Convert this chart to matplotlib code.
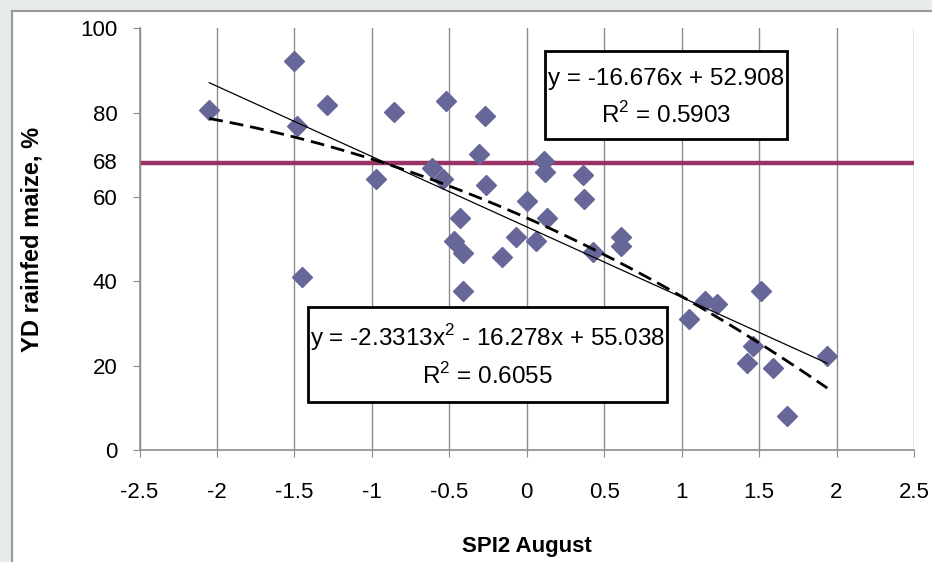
import matplotlib
matplotlib.use('Agg')
import matplotlib.pyplot as plt
from matplotlib.patches import Rectangle
import numpy as np

# data
spi2_aug = [-2.05, -1.50, -1.29, -1.48, -1.45, -0.86, -0.97, -0.52, -0.27, -0.61,
            -0.54, -0.31, -0.26, -0.43, -0.47, -0.41, -0.41, -0.16, -0.07, 0.00,
            0.06, 0.11, 0.12, 0.13, 0.36, 0.37, 0.43, 0.61, 0.61, 1.05,
            1.15, 1.23, 1.51, 1.46, 1.42, 1.59, 1.68, 1.94]
yd_maize = [80.7, 92.3, 81.7, 76.8, 41.1, 80.2, 64.2, 82.7, 79.3, 66.9,
            64.2, 70.3, 62.8, 55.1, 49.6, 46.7, 37.8, 45.8, 50.4, 59.1,
            49.6, 68.5, 66.0, 55.1, 65.2, 59.5, 46.9, 50.6, 48.4, 31.1,
            35.4, 34.7, 37.8, 24.7, 20.7, 19.5, 8.1, 22.2]
lin_coef = [-16.676, 52.908]
quad_coef = [-2.3313, -16.278, 55.038]
threshold = 68

plt.rcParams['font.family'] = ['Liberation Sans', 'DejaVu Sans']
plt.rcParams['mathtext.fontset'] = 'custom'
plt.rcParams['mathtext.rm'] = 'Liberation Sans'

W, H = 932, 562
fig = plt.figure(figsize=(W / 100, H / 100), dpi=100)

# grey frame on top / left
fig.patches.append(Rectangle((0, 1 - 10 / H), 1, 10 / H, transform=fig.transFigure,
                             color='#e8ebeb', zorder=0))
fig.patches.append(Rectangle((0, 0), 12 / W, 1, transform=fig.transFigure,
                             color='#e8ebeb', zorder=0))
fig.add_artist(plt.Line2D([12 / W, 1], [1 - 11 / H, 1 - 11 / H], color='#9a9a9a', lw=1.5))
fig.add_artist(plt.Line2D([12 / W, 12 / W], [0, 1 - 11 / H], color='#9a9a9a', lw=1.5))

ax = fig.add_axes([139.5 / W, 1 - 450 / H, (914 - 139.5) / W, (450 - 28.3) / H])

xs = np.linspace(min(spi2_aug), max(spi2_aug), 200)
ax.plot(xs, np.polyval(lin_coef, xs), color='black', lw=0.9, zorder=4)
ax.plot(xs, np.polyval(quad_coef, xs), color='black', lw=2, dashes=(5, 2.5), zorder=4)
ax.axhline(threshold, color='#993366', lw=3.2, zorder=2)
ax.plot(spi2_aug, yd_maize, 'D', color='#666699', ms=10.5, mec='#666699', zorder=3)

ax.set_xlim(-2.5, 2.5)
ax.set_ylim(0, 100)
ax.set_xticks(np.arange(-2.5, 2.51, 0.5))
ax.set_xticklabels(['-2.5', '-2', '-1.5', '-1', '-0.5', '0', '0.5', '1', '1.5', '2', '2.5'])
ax.set_yticks([0, 20, 40, 60, 80, 100])
ax.annotate('68', xy=(0, threshold), xycoords=('axes fraction', 'data'),
            xytext=(-16, 0), textcoords='offset points', ha='right', va='center',
            fontsize=16)
ax.tick_params(axis='both', direction='out', length=5, color='#8c8c8c', labelsize=16)
ax.tick_params(axis='x', pad=18)
ax.tick_params(axis='y', pad=11)
ax.xaxis.grid(True, color='#8c8c8c', lw=1)
ax.set_axisbelow(True)
for s in ['top', 'right']:
    ax.spines[s].set_visible(False)
for s in ['left', 'bottom']:
    ax.spines[s].set_color('#8c8c8c')
    ax.spines[s].set_linewidth(1.2)

ax.set_xlabel('SPI2 August', fontsize=16, fontweight='bold', labelpad=24)
ax.set_ylabel('YD rainfed maize, %', fontsize=17, fontweight='bold', labelpad=26)

# equation boxes
def eq_box(x0, y0, x1, y1, line1, line2):
    fig.patches.append(Rectangle((x0 / W, 1 - y1 / H), (x1 - x0) / W, (y1 - y0) / H,
                                 transform=fig.transFigure, fc='white', ec='black',
                                 lw=2, zorder=5))
    cx = (x0 + x1) / 2 / W
    h = y1 - y0
    fig.text(cx, 1 - (y0 + h * 0.32) / H, line1, ha='center', va='center',
             fontsize=17.5, zorder=6)
    fig.text(cx, 1 - (y0 + h * 0.73) / H, line2, ha='center', va='center',
             fontsize=17.5, zorder=6)

eq_box(545, 51, 787, 139, 'y = -16.676x + 52.908', 'R$^{2}$ = 0.5903')
eq_box(308, 307, 667, 402, 'y = -2.3313x$^{2}$ - 16.278x + 55.038', 'R$^{2}$ = 0.6055')

fig.savefig('out.png', dpi=100)
